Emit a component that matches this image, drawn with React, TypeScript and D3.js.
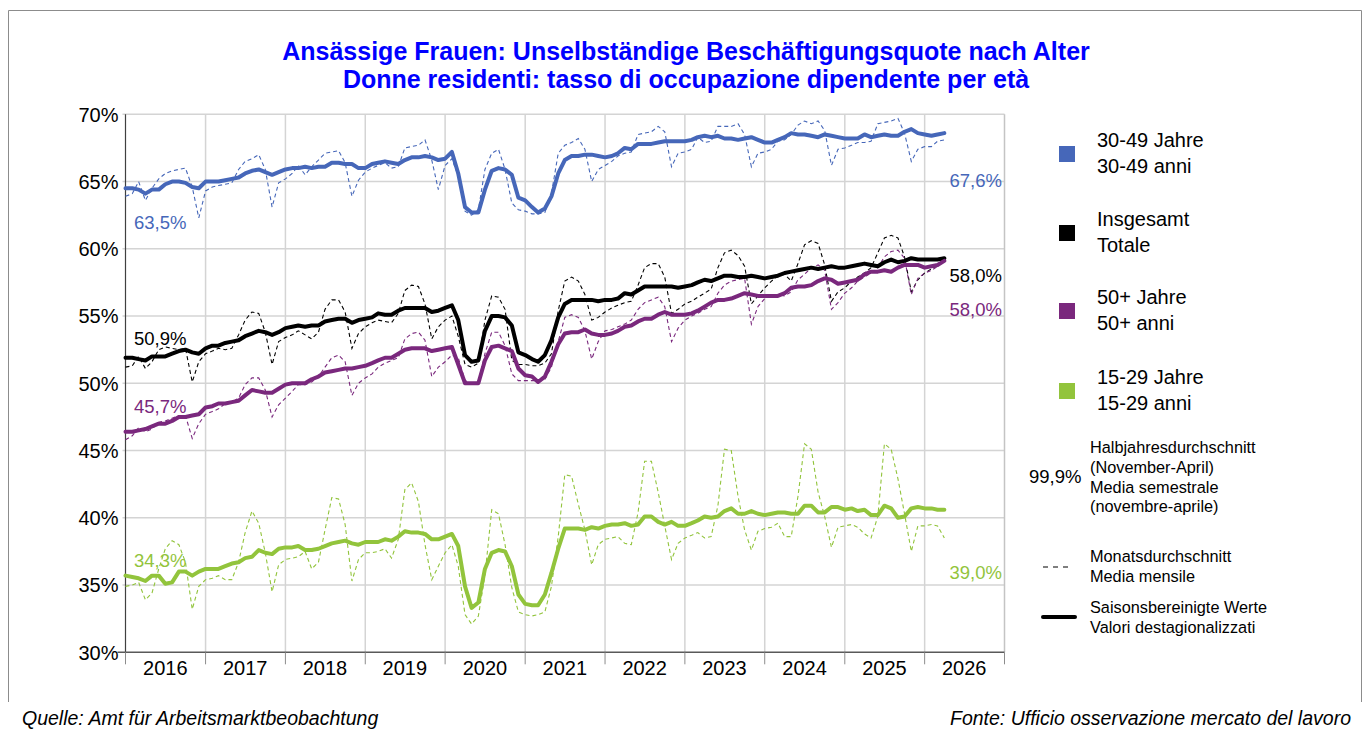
import React from "react";
import * as d3 from "d3";

// Ansässige Frauen – unselbständige Beschäftigungsquote nach Alter, Jan 2016 – Apr 2026 (monthly)
const START_YEAR = 2016;
const N_MONTHS = 124;

// saisonbereinigte Werte (thick lines)
const sa3049 = [
  64.5, 64.5, 64.4, 64.1, 64.4, 64.4, 64.8, 65.0, 65.0, 64.9, 64.6, 64.5,
  65.0, 65.0, 65.0, 65.1, 65.2, 65.3, 65.6, 65.8, 65.9, 65.7, 65.5, 65.7,
  65.9, 66.0, 66.0, 66.1, 66.0, 66.1, 66.1, 66.4, 66.4, 66.3, 66.3, 66.0,
  66.0, 66.3, 66.4, 66.5, 66.4, 66.3, 66.6, 66.8, 66.8, 66.9, 66.8, 66.6,
  66.7, 67.2, 65.6, 63.1, 62.7, 62.7, 64.4, 65.8, 66.0, 65.9, 65.5, 63.8,
  63.6, 63.1, 62.7, 63.0, 63.9, 65.6, 66.6, 66.9, 66.9, 67.0, 67.0, 66.9,
  66.8, 66.9, 67.1, 67.5, 67.4, 67.8, 67.8, 67.8, 67.9, 68.0, 68.0, 68.0,
  68.0, 68.1, 68.3, 68.4, 68.3, 68.4, 68.2, 68.2, 68.1, 68.2, 68.3, 68.1,
  67.9, 67.9, 68.1, 68.3, 68.6, 68.5, 68.5, 68.4, 68.3, 68.5, 68.4, 68.3,
  68.2, 68.2, 68.2, 68.5, 68.3, 68.4, 68.5, 68.4, 68.4, 68.7, 68.9, 68.6,
  68.5, 68.4, 68.5, 68.6,
];
const saTotal = [
  51.9, 51.9, 51.8, 51.7, 52.0, 52.0, 52.0, 52.2, 52.4, 52.5, 52.3, 52.2,
  52.6, 52.8, 52.8, 53.0, 53.1, 53.2, 53.5, 53.7, 53.9, 53.8, 53.6, 53.8,
  54.1, 54.2, 54.3, 54.2, 54.3, 54.3, 54.6, 54.7, 54.8, 54.8, 54.5, 54.7,
  54.8, 54.9, 55.2, 55.1, 55.1, 55.4, 55.6, 55.6, 55.6, 55.6, 55.3, 55.4,
  55.6, 55.8, 54.7, 52.1, 51.6, 51.7, 53.9, 55.0, 55.0, 54.9, 54.3, 52.3,
  52.1, 51.8, 51.6, 52.1, 53.2, 54.9, 55.9, 56.2, 56.2, 56.2, 56.2, 56.1,
  56.2, 56.2, 56.3, 56.7, 56.6, 56.9, 57.2, 57.2, 57.2, 57.2, 57.2, 57.1,
  57.2, 57.3, 57.5, 57.7, 57.6, 57.8, 58.0, 58.0, 57.9, 57.9, 58.0, 57.9,
  57.8, 57.9, 58.0, 58.2, 58.3, 58.4, 58.5, 58.6, 58.5, 58.6, 58.7, 58.6,
  58.6, 58.7, 58.8, 58.9, 58.8, 58.7, 59.0, 59.2, 59.0, 59.1, 59.3, 59.2,
  59.2, 59.2, 59.2, 59.3,
];
const sa50 = [
  46.4, 46.4, 46.5, 46.6, 46.8, 47.0, 47.0, 47.2, 47.5, 47.5, 47.6, 47.7,
  48.2, 48.3, 48.5, 48.5, 48.6, 48.7, 49.1, 49.5, 49.4, 49.3, 49.3, 49.6,
  49.9, 50.0, 50.0, 50.0, 50.3, 50.5, 50.8, 50.9, 51.0, 51.1, 51.1, 51.2,
  51.3, 51.5, 51.7, 51.9, 51.9, 52.2, 52.5, 52.6, 52.6, 52.6, 52.4, 52.5,
  52.6, 52.7, 51.4, 50.0, 50.0, 50.0, 51.7, 52.7, 52.8, 52.6, 52.4, 51.1,
  50.6, 50.5, 50.1, 50.5, 51.6, 52.9, 53.7, 53.8, 53.8, 54.0, 53.7, 53.6,
  53.6, 53.7, 53.9, 54.2, 54.3, 54.6, 54.8, 54.8, 55.1, 55.3, 55.1, 55.1,
  55.1, 55.2, 55.4, 55.7, 56.0, 56.2, 56.2, 56.3, 56.5, 56.7, 56.6, 56.5,
  56.5, 56.5, 56.5, 56.7, 57.1, 57.2, 57.2, 57.3, 57.6, 57.8, 57.7, 57.4,
  57.5, 57.6, 57.7, 58.1, 58.3, 58.3, 58.4, 58.3, 58.6, 58.8, 58.8, 58.8,
  58.6, 58.7, 58.8, 59.1,
];
const sa1529 = [
  35.7, 35.6, 35.5, 35.3, 35.7, 35.7, 35.1, 35.2, 36.0, 36.0, 35.7, 36.0,
  36.2, 36.2, 36.2, 36.4, 36.6, 36.7, 37.0, 37.1, 37.6, 37.4, 37.3, 37.7,
  37.8, 37.8, 37.9, 37.6, 37.6, 37.7, 37.9, 38.1, 38.2, 38.3, 38.1, 38.0,
  38.2, 38.2, 38.2, 38.4, 38.3, 38.6, 39.0, 38.9, 38.9, 38.8, 38.4, 38.4,
  38.6, 38.8, 37.9, 34.9, 33.3, 33.7, 36.2, 37.4, 37.6, 37.5, 36.4, 34.3,
  33.6, 33.5, 33.5, 34.3, 35.9, 37.7, 39.2, 39.2, 39.2, 39.1, 39.3, 39.2,
  39.4, 39.5, 39.5, 39.6, 39.4, 39.5, 40.1, 40.1, 39.7, 39.5, 39.7, 39.4,
  39.4, 39.6, 39.8, 40.1, 40.0, 40.1, 40.5, 40.7, 40.3, 40.3, 40.5, 40.3,
  40.2, 40.3, 40.4, 40.4, 40.3, 40.3, 40.9, 40.9, 40.4, 40.4, 40.8, 40.8,
  40.6, 40.7, 40.5, 40.6, 40.2, 40.2, 40.9, 40.7, 40.0, 40.1, 40.7, 40.8,
  40.7, 40.7, 40.6, 40.6,
];

// Monatsdurchschnitt (dashed lines)
const m3049 = [
  63.9, 64.1, 65.0, 63.6, 64.5, 65.2, 65.6, 65.8, 65.9, 66.0, 64.6, 62.3,
  64.3, 64.6, 64.7, 64.8, 64.9, 65.9, 66.5, 66.7, 67.0, 65.9, 63.1, 64.9,
  65.2, 65.6, 66.2, 65.5, 66.1, 66.6, 67.1, 67.2, 67.3, 66.4, 63.9, 65.1,
  65.7, 66.0, 66.2, 66.4, 66.0, 66.1, 67.5, 67.6, 67.7, 68.1, 66.6, 64.4,
  66.2, 66.7, 65.4, 62.8, 62.5, 62.9, 65.9, 67.1, 67.4, 65.9, 63.4, 62.9,
  62.8, 62.6, 62.6, 62.7, 64.1, 67.1, 67.7, 67.9, 68.2, 67.4, 65.0, 65.9,
  66.2, 66.5, 66.9, 67.1, 67.2, 68.5, 68.6, 68.7, 69.1, 68.7, 66.1, 67.1,
  67.2, 67.4, 68.3, 67.9, 68.0, 69.1, 69.1, 69.1, 69.3, 68.5, 66.1, 67.1,
  67.2, 67.4, 68.0, 68.1, 68.5, 69.2, 69.5, 69.3, 69.5, 68.8, 66.2, 67.4,
  67.5, 67.7, 67.9, 67.9, 68.0, 69.3, 69.4, 69.5, 69.7, 68.6, 66.5, 67.4,
  67.6, 67.6, 68.0, 68.1,
];
const mTotal = [
  51.2, 51.3, 52.0, 51.1, 51.6, 52.5, 52.7, 52.6, 52.5, 52.6, 50.1, 51.6,
  52.2, 52.4, 52.6, 52.5, 52.6, 53.6, 54.7, 55.3, 55.2, 53.8, 51.4, 53.1,
  53.4, 53.6, 53.9, 53.6, 53.3, 53.8, 55.5, 56.2, 56.2, 55.3, 52.6, 53.7,
  54.2, 54.5, 54.7, 54.6, 54.5, 55.2, 56.9, 57.3, 57.2, 55.9, 53.3, 54.2,
  54.7, 55.0, 53.5, 51.4, 51.2, 51.5, 54.7, 56.5, 56.4, 55.5, 51.7, 51.4,
  51.4, 51.3, 51.3, 51.5, 52.2, 55.4, 57.6, 57.9, 57.6, 56.6, 54.7, 54.9,
  55.3, 55.6, 55.8, 56.0, 56.1, 57.3, 58.6, 58.9, 58.9, 57.9, 55.2, 55.5,
  55.9, 56.1, 56.4, 56.7, 57.0, 58.6, 59.7, 59.9, 59.5, 58.7, 55.9, 56.5,
  57.1, 57.6, 58.0, 58.1, 57.6, 58.9, 60.3, 60.6, 60.4, 58.8, 56.1, 56.8,
  57.1, 57.6, 57.9, 58.2, 58.6, 59.7, 60.8, 61.0, 60.8, 59.4, 56.8, 57.7,
  58.2, 58.5, 58.8, 59.3,
];
const m50 = [
  45.8, 46.1, 46.7, 46.4, 46.6, 47.1, 47.2, 47.4, 47.6, 47.6, 45.9, 47.0,
  47.7, 47.9, 48.1, 48.5, 48.6, 48.9, 49.9, 50.4, 50.4, 49.5, 47.5, 48.4,
  48.9, 49.4, 49.9, 49.9, 50.1, 50.5, 51.2, 51.9, 52.1, 51.6, 49.1, 50.0,
  50.4, 50.7, 51.2, 51.5, 51.7, 51.9, 53.3, 53.7, 53.8, 53.2, 50.5, 51.2,
  51.6, 52.1, 51.9, 50.2, 50.0, 50.1, 52.2, 53.8, 53.8, 52.8, 50.7, 50.2,
  50.2, 50.2, 50.2, 50.3, 51.2, 53.1, 54.9, 55.1, 54.9, 53.9, 51.8, 53.1,
  53.9, 54.0, 54.2, 54.4, 54.7, 55.5, 56.0, 56.2, 56.4, 55.7, 53.1, 54.1,
  54.7, 55.0, 55.2, 55.5, 55.7, 56.7, 57.3, 57.6, 57.7, 57.8, 54.4, 55.7,
  56.3, 56.5, 56.6, 56.5, 56.8, 57.7, 58.1, 58.6, 58.8, 58.4, 55.5, 56.0,
  56.7, 57.1, 57.6, 57.9, 58.2, 58.6, 59.4, 59.8, 59.9, 59.3, 56.6, 57.8,
  58.2, 58.4, 58.7, 59.2,
];
const m1529 = [
  34.9, 35.0, 35.2, 33.9, 34.4, 36.2, 37.7, 38.3, 38.0, 36.7, 33.2, 34.9,
  35.4, 35.5, 35.7, 35.4, 35.4, 36.7, 38.9, 40.5, 39.6, 37.4, 34.5, 36.5,
  36.9, 37.0, 37.1, 37.5, 36.2, 36.7, 39.1, 41.5, 41.4, 39.5, 35.3, 36.9,
  37.4, 37.4, 37.5, 37.7, 37.0, 38.4, 42.1, 42.6, 41.2, 38.0, 35.4, 36.4,
  37.4, 38.0, 36.4, 32.8, 32.1, 32.7, 35.7, 40.6, 40.3, 38.0, 34.8, 33.0,
  32.8, 32.7, 32.8, 33.0, 34.9, 38.6, 43.2, 43.1, 41.0, 39.1, 36.5, 38.0,
  38.4, 38.5, 38.6, 38.1, 38.0, 40.4, 44.2, 44.2, 41.9, 39.4, 36.9, 38.1,
  38.5, 38.7, 38.9, 38.5, 38.6, 40.9, 45.1, 45.0, 41.6, 39.1, 37.6, 39.0,
  39.2, 39.3, 39.6, 38.6, 38.6, 41.6, 45.5, 45.1, 41.9, 40.1, 37.8, 39.3,
  39.4, 39.5, 39.3, 38.8, 38.5, 40.1, 45.5, 45.1, 42.9, 40.3, 37.5, 39.4,
  39.4, 39.5, 39.4, 38.5,
];

// Halbjahresdurchschnitt labels (first / last semester)
const semFirst = ["63,5%", "50,9%", "45,7%", "34,3%"];
const semLast = ["67,6%", "58,0%", "58,0%", "39,0%"];

const seriesKeys = ["3049", "total", "50", "1529"];
const legendDe = ["30-49 Jahre", "Insgesamt", "50+ Jahre", "15-29 Jahre"];
const legendIt = ["30-49 anni", "Totale", "50+ anni", "15-29 anni"];
const colors = ["#4667b9", "#000000", "#7a287d", "#92c43c"];

const yTicks = [30, 35, 40, 45, 50, 55, 60, 65, 70];
const years = d3.range(2016, 2027);

// label placement (value units of the y axis, baseline)
const firstLabelAt = [61.47, 52.85, 47.79, 36.34];
const lastLabelAt = [64.59, 57.53, 55.0, 35.45];

const W = 1370;
const H = 731;
const PLOT = { left: 125.5, right: 1004.5, top: 114.3, bottom: 652.3 };
const FONT = "'Liberation Sans', Arial, Helvetica, sans-serif";

export default function App() {
  const dates = d3.range(N_MONTHS).map((i) => new Date(START_YEAR, i, 1));

  const x = d3
    .scaleTime()
    .domain([new Date(2016, 0, 1), new Date(2027, 0, 1)])
    .range([PLOT.left, PLOT.right]);
  const y = d3.scaleLinear().domain([30, 70]).range([PLOT.bottom, PLOT.top]);

  const line = d3
    .line<number>()
    .x((_, i) => x(dates[i]))
    .y((d) => y(d));

  const saList = [sa3049, saTotal, sa50, sa1529];
  const mList = [m3049, mTotal, m50, m1529];
  const series = seriesKeys.map((key, k) => ({
    key,
    sa: saList[k],
    m: mList[k],
    color: colors[k],
  }));

  const yearStarts = d3.range(2016, 2028).map((yr) => new Date(yr, 0, 1));

  return (
    <svg
      width={W}
      height={H}
      style={{ position: "absolute", left: 0, top: 0, background: "#fff" }}
      fontFamily={FONT}
    >
      <rect width={W} height={H} fill="#fff" />
      {/* outer frame */}
      <path d="M8.5,702 V10.5 H1361.5 V702" fill="none" stroke="#8c8c8c" strokeWidth={1} />

      {/* title */}
      <g fill="#0000ff" fontWeight="bold" fontSize={25} textAnchor="middle">
        <text x={686} y={60}>
          Ansässige Frauen: Unselbständige Beschäftigungsquote nach Alter
        </text>
        <text x={686} y={88}>
          Donne residenti: tasso di occupazione dipendente per età
        </text>
      </g>

      {/* grid */}
      <g stroke="#d4d4d4" strokeWidth={1.5}>
        {yTicks
          .filter((t) => t > 30)
          .map((t) => (
            <line key={t} x1={PLOT.left - 3} x2={PLOT.right} y1={y(t)} y2={y(t)} />
          ))}
        {yearStarts.slice(1, -1).map((d) => (
          <line key={+d} x1={x(d)} x2={x(d)} y1={PLOT.top} y2={PLOT.bottom} />
        ))}
      </g>
      <line x1={PLOT.right} x2={PLOT.right} y1={PLOT.top} y2={PLOT.bottom} stroke="#c4c4c4" strokeWidth={1.5} />

      {/* axes */}
      <line x1={PLOT.left} x2={PLOT.left} y1={PLOT.top} y2={PLOT.bottom} stroke="#404040" strokeWidth={1.2} />
      <line x1={PLOT.left - 8} x2={PLOT.right} y1={PLOT.bottom} y2={PLOT.bottom} stroke="#595959" strokeWidth={1.5} />
      <g stroke="#8c8c8c" strokeWidth={1}>
        {yearStarts.map((d) => (
          <line key={+d} x1={x(d)} x2={x(d)} y1={PLOT.bottom} y2={PLOT.bottom + 12} />
        ))}
      </g>
      <g fontSize={20} fill="#000" textAnchor="end">
        {yTicks.map((t) => (
          <text key={t} x={118.5} y={y(t)} dy="0.36em">
            {t}%
          </text>
        ))}
      </g>
      <g fontSize={20} fill="#000" textAnchor="middle">
        {years.map((yr) => (
          <text key={yr} x={x(new Date(yr, 6, 1))} y={675}>
            {yr}
          </text>
        ))}
      </g>

      {/* monthly averages (dashed) */}
      {series.map((s) => (
        <path
          key={"m" + s.key}
          d={line(s.m) || ""}
          fill="none"
          stroke={s.color}
          strokeWidth={1.1}
          strokeDasharray="4 3"
        />
      ))}
      {/* seasonally adjusted (thick) */}
      {series.map((s) => (
        <path
          key={"sa" + s.key}
          d={line(s.sa) || ""}
          fill="none"
          stroke={s.color}
          strokeWidth={4}
          strokeLinejoin="round"
          strokeLinecap="round"
        />
      ))}

      {/* semester average labels */}
      <g fontSize={18.5}>
        {series.map((s, k) => (
          <text key={"f" + s.key} x={134} y={y(firstLabelAt[k])} fill={s.color}>
            {semFirst[k]}
          </text>
        ))}
        {series.map((s, k) => (
          <text key={"l" + s.key} x={1002} y={y(lastLabelAt[k])} fill={s.color} textAnchor="end">
            {semLast[k]}
          </text>
        ))}
      </g>

      {/* legend */}
      <g fontSize={20} fill="#000">
        {series.map((s, k) => {
          const top = [146, 225, 303, 383][k];
          return (
            <g key={"lg" + s.key}>
              <rect x={1059} y={top} width={16} height={16} fill={s.color} />
              <text x={1097} y={top + 1}>
                {legendDe[k]}
              </text>
              <text x={1097} y={top + 27}>
                {legendIt[k]}
              </text>
            </g>
          );
        })}
      </g>
      <text x={1029} y={483} fontSize={18.5} fill="#000">
        99,9%
      </text>
      <g fontSize={16.3} fill="#000">
        <text x={1090} y={453}>Halbjahresdurchschnitt</text>
        <text x={1090} y={473}>(November-April)</text>
        <text x={1090} y={493}>Media semestrale</text>
        <text x={1090} y={512}>(novembre-aprile)</text>
        <text x={1090} y={562}>Monatsdurchschnitt</text>
        <text x={1090} y={582}>Media mensile</text>
        <text x={1090} y={613}>Saisonsbereinigte Werte</text>
        <text x={1090} y={633}>Valori destagionalizzati</text>
      </g>
      <line x1={1043} x2={1070} y1={567} y2={567} stroke="#000" strokeWidth={1.2} strokeDasharray="5 5" />
      <line x1={1043} x2={1075} y1={617} y2={617} stroke="#000" strokeWidth={4} strokeLinecap="round" />

      {/* footer */}
      <g fontSize={19.5} fontStyle="italic" fill="#000">
        <text x={22} y={725}>
          Quelle: Amt für Arbeitsmarktbeobachtung
        </text>
        <text x={1351} y={725} textAnchor="end">
          Fonte: Ufficio osservazione mercato del lavoro
        </text>
      </g>
    </svg>
  );
}
